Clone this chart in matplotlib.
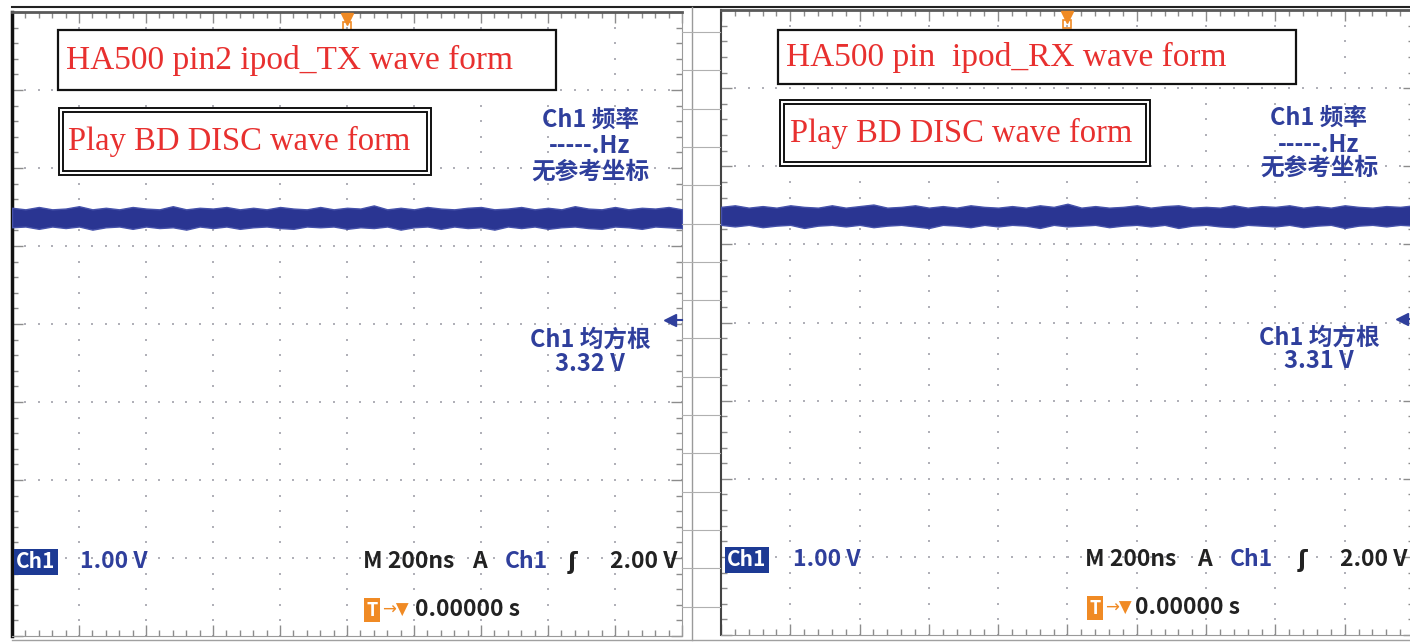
import numpy as np
import matplotlib.pyplot as plt
from matplotlib.patches import Rectangle

plt.rcParams['font.family'] = ['Noto Sans CJK SC', 'DejaVu Sans']

# scope settings (both captures)
time_per_div_ns = 200
volts_per_div = 1.0
sample_ns = np.arange(-1000, 1001, 40)

# trace envelope, in divisions above screen centre
tx_hi = [1.49, 1.47, 1.50, 1.47, 1.48, 1.51, 1.47, 1.49, 1.47, 1.50,
         1.48, 1.47, 1.51, 1.47, 1.49, 1.48, 1.50, 1.47, 1.49, 1.47,
         1.50, 1.48, 1.47, 1.50, 1.47, 1.49, 1.48, 1.52, 1.47, 1.49,
         1.47, 1.50, 1.48, 1.47, 1.49, 1.50, 1.47, 1.48, 1.50, 1.47,
         1.49, 1.47, 1.51, 1.48, 1.47, 1.50, 1.47, 1.49, 1.48, 1.50, 1.47]
tx_lo = [1.24, 1.25, 1.22, 1.25, 1.23, 1.25, 1.21, 1.24, 1.25, 1.22,
         1.25, 1.23, 1.24, 1.21, 1.25, 1.23, 1.25, 1.22, 1.24, 1.25,
         1.23, 1.22, 1.25, 1.24, 1.25, 1.22, 1.24, 1.23, 1.25, 1.21,
         1.24, 1.25, 1.22, 1.25, 1.23, 1.24, 1.21, 1.25, 1.23, 1.25,
         1.22, 1.24, 1.25, 1.23, 1.22, 1.25, 1.24, 1.22, 1.25, 1.24, 1.23]
rx_hi = [1.48, 1.50, 1.47, 1.49, 1.47, 1.50, 1.48, 1.47, 1.50, 1.47,
         1.49, 1.51, 1.47, 1.48, 1.50, 1.47, 1.49, 1.47, 1.50, 1.48,
         1.47, 1.49, 1.47, 1.50, 1.48, 1.52, 1.47, 1.49, 1.47, 1.48,
         1.50, 1.47, 1.49, 1.50, 1.47, 1.48, 1.47, 1.50, 1.47, 1.49,
         1.48, 1.50, 1.47, 1.49, 1.47, 1.50, 1.48, 1.47, 1.49, 1.48, 1.50]
rx_lo = [1.25, 1.23, 1.25, 1.22, 1.24, 1.25, 1.21, 1.24, 1.25, 1.23,
         1.25, 1.22, 1.24, 1.25, 1.23, 1.21, 1.25, 1.24, 1.22, 1.25,
         1.23, 1.25, 1.24, 1.21, 1.25, 1.23, 1.24, 1.25, 1.22, 1.24,
         1.25, 1.23, 1.25, 1.21, 1.24, 1.25, 1.23, 1.22, 1.25, 1.24,
         1.23, 1.25, 1.22, 1.24, 1.25, 1.21, 1.24, 1.25, 1.23, 1.25, 1.24]

trigger_ns = 0
rms_marker_div = 0.05
titles = ['HA500 pin2 ipod_TX wave form', 'HA500 pin  ipod_RX wave form']
subtitle = 'Play BD DISC wave form'
rms_values = ['3.32 V', '3.31 V']

TRACE = '#2a3592'
BLUE = '#2f3f9c'
RED = '#e8302f'
ORANGE = '#f08a24'
DOT = '#b0b0b8'

fig = plt.figure(figsize=(14.1, 6.42), dpi=100)


def scope_panel(rect, hi, lo):
    ax = fig.add_axes(rect, zorder=1)
    ax.set_xlim(-5 * time_per_div_ns, 5 * time_per_div_ns)
    ax.set_ylim(-4 * volts_per_div, 4 * volts_per_div)

    # dotted graticule, a dot every fifth of a division
    gx = np.arange(-4, 5) * time_per_div_ns
    gy = np.arange(-4, 4.01, 0.2) * volts_per_div
    X, Y = np.meshgrid(gx, gy)
    ax.scatter(X.ravel(), Y.ravel(), s=2.5, marker='s', color=DOT, lw=0)
    hx = np.arange(-5, 5.01, 0.2) * time_per_div_ns
    hy = np.arange(-3, 4) * volts_per_div
    X, Y = np.meshgrid(hx, hy)
    ax.scatter(X.ravel(), Y.ravel(), s=2.5, marker='s', color=DOT, lw=0)

    ax.set_xticks(np.arange(-5, 6) * time_per_div_ns)
    ax.set_xticks(np.arange(-5, 5.01, 0.2) * time_per_div_ns, minor=True)
    ax.set_yticks(np.arange(-4, 5) * volts_per_div)
    ax.set_yticks(np.arange(-4, 4.01, 0.2) * volts_per_div, minor=True)
    ax.tick_params(which='both', direction='in', top=True, right=True,
                   labelbottom=False, labelleft=False, color='#8c8c8c', width=1)
    ax.tick_params(which='major', length=8)
    ax.tick_params(which='minor', length=4)

    ax.fill_between(sample_ns, lo, hi, color=TRACE, lw=1.0, edgecolor='#4652aa', zorder=3)

    ax.plot([trigger_ns], [3.91], marker='v', ms=9, color=ORANGE, clip_on=False, zorder=4)
    ax.plot([trigger_ns], [3.82], marker='s', ms=6, mfc='none', mec=ORANGE, mew=1.2, zorder=4)
    ax.plot([0.982], [rms_marker_div], marker='<', ms=8, color=BLUE,
            transform=ax.get_yaxis_transform(), clip_on=False, zorder=4)
    ax.plot([0.982, 1.0], [rms_marker_div, rms_marker_div], color=BLUE, lw=1.5,
            transform=ax.get_yaxis_transform(), clip_on=False, zorder=4)
    return ax


W, H = 1410, 642
left = scope_panel([12 / W, 6 / H, 670 / W, 624 / H], tx_hi, tx_lo)
right = scope_panel([721 / W, 7 / H, 693 / W, 625 / H], rx_hi, rx_lo)
for ax in (left, right):
    ax.spines['top'].set_color('#5a5a5a')
    ax.spines['top'].set_linewidth(2)
    ax.spines['bottom'].set_color('#9a9a9a')
    ax.spines['right'].set_color('#9a9a9a')
left.spines['left'].set_color('#111111')
left.spines['left'].set_linewidth(2.5)
right.spines['left'].set_color('#444444')
right.spines['left'].set_linewidth(1.5)

# overlay in pixel coordinates for the pasted labels and readouts
ov = fig.add_axes([0, 0, 1, 1], zorder=5)
ov.set_xlim(0, W)
ov.set_ylim(H, 0)
ov.axis('off')
ov.patch.set_alpha(0)

# page lines around and between the two captures
ov.plot([12, W], [7, 7], color='#222222', lw=1.5)
ov.plot([692, 692], [7, 640], color='#9a9a9a', lw=1)
for yy in np.arange(32, 630, 38.3):
    ov.plot([682, 720], [yy, yy], color='#b0b0b0', lw=0.8)
ov.plot([12, W], [640, 640], color='#a0a0a0', lw=1)

serif = ['Liberation Serif', 'DejaVu Serif']
panels = [
    dict(box=(58, 30, 556, 90), tx=66, ty=60, dbox=(59, 108, 431, 175), sx=68, sy=141,
         mx=590, f1=120, f2=146, f3=172, r1=340, r2=364, by=562,
         inv=36, v1=80, m=363, a=472, c=505, e=568, v2=677, ty2=610, tt=372, tz=415),
    dict(box=(778, 30, 1296, 84), tx=786, ty=57, dbox=(780, 100, 1150, 166), sx=790, sy=133,
         mx=1319, f1=118, f2=145, f3=168, r1=338, r2=361, by=560,
         inv=747, v1=793, m=1085, a=1197, c=1230, e=1298, v2=1407, ty2=608, tt=1095, tz=1135),
]

for i, p in enumerate(panels):
    x0, y0, x1, y1 = p['box']
    ov.add_patch(Rectangle((x0, y0), x1 - x0, y1 - y0, fc='white', ec='#111111', lw=1.6, zorder=6))
    ov.text(p['tx'], p['ty'], titles[i], family=serif, fontsize=24, color=RED,
            va='center', ha='left', zorder=7)
    x0, y0, x1, y1 = p['dbox']
    ov.add_patch(Rectangle((x0, y0), x1 - x0, y1 - y0, fc='white', ec='#111111', lw=1.4, zorder=6))
    ov.add_patch(Rectangle((x0 + 4, y0 + 4), x1 - x0 - 8, y1 - y0 - 8, fc='none', ec='#111111', lw=1.4, zorder=6))
    ov.text(p['sx'], p['sy'], subtitle, family=serif, fontsize=23.5, color=RED,
            va='center', ha='left', zorder=7)

    # measurement readouts
    kw = dict(color=BLUE, fontsize=17, fontweight='bold', ha='center', va='center', zorder=7)
    ov.text(p['mx'], p['f1'], 'Ch1 频率', **kw)
    ov.text(p['mx'], p['f2'], '-----.Hz', **kw)
    ov.text(p['mx'], p['f3'], '无参考坐标', **kw)
    ov.text(p['mx'], p['r1'], 'Ch1 均方根', **kw)
    ov.text(p['mx'], p['r2'], rms_values[i], **kw)

    # bottom status line
    by = p['by']
    ov.text(p['inv'], by, 'Ch1', color='white', fontsize=15, fontweight='bold', ha='center', va='center',
            bbox=dict(boxstyle='square,pad=0.1', fc='#1d3a94', ec='none'), zorder=7)
    ov.text(p['v1'], by, '1.00 V', color=BLUE, fontsize=16.5, fontweight='bold', va='center', zorder=7)
    ov.text(p['m'], by, 'M 200ns', color='#222222', fontsize=16.5, fontweight='bold', va='center', zorder=7)
    ov.text(p['a'], by, 'A', color='#222222', fontsize=16.5, fontweight='bold', va='center', zorder=7)
    ov.text(p['c'], by, 'Ch1', color=BLUE, fontsize=16.5, fontweight='bold', va='center', zorder=7)
    ov.text(p['e'], by, 'ʃ', color='#222222', fontsize=16.5, fontweight='bold', va='center',
            family=['DejaVu Sans'], zorder=7)
    ov.text(p['v2'], by, '2.00 V', color='#222222', fontsize=16.5, fontweight='bold', va='center',
            ha='right', zorder=7)
    ov.text(p['tt'], p['ty2'], 'T', color='white', fontsize=13, fontweight='bold', ha='center', va='center',
            bbox=dict(boxstyle='square,pad=0.12', fc=ORANGE, ec='none'), zorder=7)
    ov.text(p['tt'] + 10, p['ty2'], '→▼', color=ORANGE, fontsize=12, va='center', zorder=7,
            family=['DejaVu Sans'])
    ov.text(p['tz'], p['ty2'], '0.00000 s', color='#222222', fontsize=16.5, fontweight='bold',
            va='center', zorder=7)

fig.savefig('out.png', dpi=100)
